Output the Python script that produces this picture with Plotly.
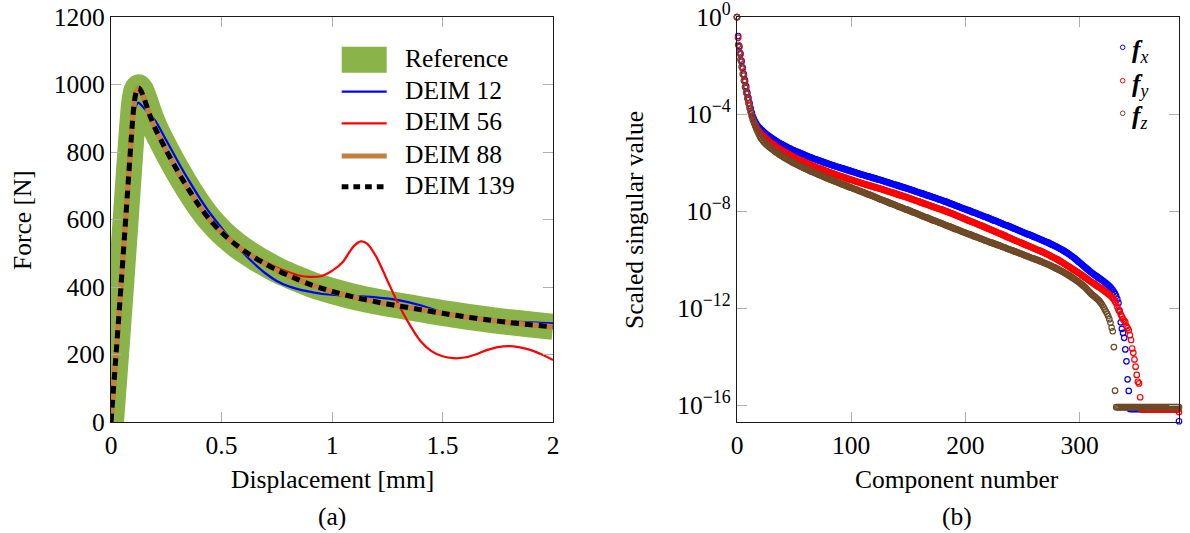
import plotly.graph_objects as go

# ---------------- (a) force-displacement data ----------------
disp_main = [0, 0.02, 0.04, 0.06, 0.08, 0.095, 0.105, 0.115, 0.125, 0.135,
             0.15, 0.175, 0.2, 0.25, 0.3, 0.35, 0.4, 0.45, 0.5, 0.55,
             0.6, 0.65, 0.7, 0.75, 0.8, 0.85, 0.9, 0.95, 1.0, 1.1,
             1.2, 1.3, 1.4, 1.5, 1.6, 1.7, 1.8, 1.9, 2.0]
force_ref = [0, 175, 355, 540, 730, 870, 945, 982, 992, 984,
             960, 912, 871, 806, 746, 691, 641, 598, 563, 534,
             509, 488, 469, 451, 436, 422, 409, 398, 388, 371,
             357, 345, 334, 323, 313, 304, 296, 289, 282]
force_88 = [0, 175, 355, 540, 730, 870, 945, 980, 990, 982,
            958, 910, 870, 805, 745, 690, 640, 597, 562, 533,
            508, 487, 468, 450, 435, 421, 408, 397, 387, 370,
            356, 344, 333, 322, 312, 303, 295, 288, 282]
force_139 = [0, 175, 355, 540, 730, 870, 945, 980, 990, 982,
             958, 910, 870, 805, 745, 690, 640, 597, 562, 533,
             508, 487, 468, 450, 435, 421, 408, 397, 387, 370,
             356, 344, 333, 322, 312, 303, 295, 288, 282]
force_12 = [0, 175, 355, 540, 730, 860, 915, 940, 946, 940,
            930, 912, 893, 835, 775, 718, 665, 617, 575, 535,
            500, 468, 440, 418, 403, 393, 386, 380, 377, 373,
            369, 361, 346, 325, 312, 305, 299, 295, 292]
disp_56 = [0, 0.02, 0.04, 0.06, 0.08, 0.095, 0.105, 0.115, 0.125, 0.135,
           0.15, 0.175, 0.2, 0.25, 0.3, 0.35, 0.4, 0.45, 0.5, 0.55,
           0.6, 0.65, 0.7, 0.75, 0.8, 0.85, 0.9, 0.95, 1.0, 1.05,
           1.08, 1.1, 1.13, 1.16, 1.2, 1.25, 1.3, 1.35, 1.4, 1.45,
           1.5, 1.55, 1.6, 1.65, 1.7, 1.75, 1.8, 1.85, 1.9, 1.95, 2.0]
force_56 = [0, 175, 355, 540, 730, 870, 945, 980, 990, 982,
            958, 910, 870, 805, 745, 690, 640, 597, 562, 533,
            508, 490, 473, 458, 445, 434, 430, 432, 448, 475,
            505, 522, 535, 528, 490, 420, 350, 290, 240, 210,
            195, 189, 191, 200, 213, 222, 225, 221, 213, 200, 184]

# ---------------- (b) scaled singular values (log10 exponents) ----------------
component = list(range(0, 388))
log_fx = [
    0, -0.78, -1.20, -1.50, -1.80, -2.08, -2.35, -2.60, -2.85, -3.10,
    -3.33, -3.55, -3.76, -3.95, -4.10, -4.22, -4.32, -4.40, -4.47, -4.53,
    -4.58, -4.63, -4.67, -4.72, -4.76, -4.80, -4.84, -4.88, -4.91, -4.95,
    -4.98, -5.01, -5.04, -5.07, -5.10, -5.13, -5.16, -5.19, -5.22, -5.24,
    -5.27, -5.29, -5.32, -5.34, -5.37, -5.39, -5.41, -5.43, -5.46, -5.48,
    -5.50, -5.52, -5.54, -5.56, -5.58, -5.60, -5.62, -5.64, -5.66, -5.68,
    -5.70, -5.72, -5.74, -5.76, -5.78, -5.79, -5.81, -5.83, -5.85, -5.86,
    -5.88, -5.90, -5.92, -5.93, -5.95, -5.97, -5.98, -6.00, -6.02, -6.03,
    -6.05, -6.07, -6.08, -6.10, -6.11, -6.13, -6.14, -6.16, -6.17, -6.19,
    -6.20, -6.22, -6.23, -6.25, -6.26, -6.28, -6.29, -6.31, -6.32, -6.34,
    -6.35, -6.37, -6.38, -6.40, -6.41, -6.43, -6.44, -6.46, -6.47, -6.49,
    -6.50, -6.51, -6.53, -6.54, -6.56, -6.57, -6.58, -6.60, -6.61, -6.63,
    -6.64, -6.65, -6.67, -6.68, -6.70, -6.71, -6.72, -6.74, -6.75, -6.77,
    -6.78, -6.80, -6.81, -6.83, -6.84, -6.86, -6.87, -6.89, -6.90, -6.92,
    -6.93, -6.95, -6.96, -6.98, -6.99, -7.01, -7.02, -7.04, -7.05, -7.07,
    -7.08, -7.10, -7.11, -7.13, -7.14, -7.16, -7.18, -7.19, -7.21, -7.22,
    -7.24, -7.26, -7.27, -7.29, -7.30, -7.32, -7.34, -7.35, -7.37, -7.38,
    -7.40, -7.42, -7.43, -7.45, -7.46, -7.48, -7.50, -7.51, -7.53, -7.54,
    -7.56, -7.58, -7.60, -7.61, -7.63, -7.65, -7.67, -7.69, -7.70, -7.72,
    -7.74, -7.76, -7.78, -7.79, -7.81, -7.83, -7.85, -7.87, -7.88, -7.90,
    -7.92, -7.94, -7.96, -7.97, -7.99, -8.01, -8.03, -8.05, -8.06, -8.08,
    -8.10, -8.12, -8.14, -8.15, -8.17, -8.19, -8.21, -8.23, -8.24, -8.26,
    -8.28, -8.30, -8.32, -8.34, -8.36, -8.38, -8.39, -8.41, -8.43, -8.45,
    -8.47, -8.49, -8.51, -8.53, -8.55, -8.57, -8.58, -8.60, -8.62, -8.64,
    -8.66, -8.68, -8.70, -8.72, -8.74, -8.76, -8.78, -8.80, -8.82, -8.84,
    -8.86, -8.88, -8.90, -8.92, -8.94, -8.96, -8.97, -8.99, -9.01, -9.03,
    -9.05, -9.07, -9.09, -9.11, -9.13, -9.15, -9.17, -9.19, -9.21, -9.23,
    -9.25, -9.27, -9.29, -9.31, -9.34, -9.36, -9.38, -9.40, -9.43, -9.45,
    -9.47, -9.50, -9.52, -9.55, -9.57, -9.60, -9.63, -9.66, -9.69, -9.72,
    -9.75, -9.78, -9.82, -9.85, -9.88, -9.92, -9.96, -10.00, -10.04, -10.08,
    -10.12, -10.16, -10.20, -10.24, -10.28, -10.32, -10.36, -10.40, -10.44, -10.48,
    -10.52, -10.55, -10.59, -10.62, -10.66, -10.69, -10.72, -10.76, -10.79, -10.82,
    -10.86, -10.89, -10.93, -10.97, -11.01, -11.05, -11.09, -11.14, -11.19, -11.25,
    -11.33, -11.40, -11.50, -11.62, -11.78, -12.10, -12.58, -12.85, -13.02, -13.22,
    -13.70, -14.19, -14.93, -15.41, -16.15, -16.15, -16.15, -16.15, -16.15, -16.15,
    -16.15, -16.15, -16.15, -16.15, -16.15, -16.15, -16.15, -16.15, -16.15, -16.15,
    -16.15, -16.15, -16.15, -16.15, -16.15, -16.15, -16.15, -16.15, -16.15, -16.15,
    -16.15, -16.15, -16.15, -16.15, -16.15, -16.15, -16.15, -16.15, -16.15, -16.15,
    -16.15, -16.15, -16.15, -16.15, -16.15, -16.15, -16.15, -16.66]
log_fy = [
    0, -0.85, -1.24, -1.54, -1.85, -2.13, -2.41, -2.67, -2.93, -3.18,
    -3.42, -3.65, -3.87, -4.06, -4.22, -4.35, -4.46, -4.55, -4.63, -4.70,
    -4.76, -4.81, -4.86, -4.91, -4.96, -5.00, -5.04, -5.08, -5.12, -5.16,
    -5.20, -5.23, -5.27, -5.30, -5.34, -5.37, -5.40, -5.43, -5.46, -5.49,
    -5.52, -5.55, -5.57, -5.60, -5.63, -5.65, -5.68, -5.70, -5.73, -5.75,
    -5.78, -5.80, -5.82, -5.85, -5.87, -5.89, -5.91, -5.93, -5.96, -5.98,
    -6.00, -6.02, -6.04, -6.06, -6.08, -6.10, -6.12, -6.14, -6.16, -6.18,
    -6.20, -6.22, -6.24, -6.25, -6.27, -6.29, -6.31, -6.33, -6.34, -6.36,
    -6.38, -6.40, -6.41, -6.43, -6.45, -6.46, -6.48, -6.50, -6.51, -6.53,
    -6.55, -6.56, -6.58, -6.60, -6.61, -6.63, -6.64, -6.66, -6.68, -6.69,
    -6.71, -6.72, -6.74, -6.75, -6.77, -6.78, -6.80, -6.81, -6.83, -6.84,
    -6.86, -6.87, -6.89, -6.90, -6.92, -6.93, -6.94, -6.96, -6.97, -6.99,
    -7.00, -7.01, -7.03, -7.04, -7.06, -7.07, -7.08, -7.10, -7.11, -7.13,
    -7.14, -7.16, -7.17, -7.19, -7.20, -7.22, -7.23, -7.25, -7.26, -7.28,
    -7.30, -7.31, -7.33, -7.34, -7.36, -7.37, -7.39, -7.40, -7.42, -7.43,
    -7.45, -7.47, -7.48, -7.50, -7.52, -7.53, -7.55, -7.57, -7.58, -7.60,
    -7.62, -7.64, -7.65, -7.67, -7.69, -7.70, -7.72, -7.74, -7.75, -7.77,
    -7.79, -7.80, -7.82, -7.84, -7.85, -7.87, -7.89, -7.90, -7.92, -7.93,
    -7.95, -7.97, -7.99, -8.00, -8.02, -8.04, -8.06, -8.08, -8.09, -8.11,
    -8.13, -8.15, -8.17, -8.19, -8.21, -8.23, -8.25, -8.27, -8.29, -8.31,
    -8.33, -8.35, -8.37, -8.39, -8.41, -8.43, -8.44, -8.46, -8.48, -8.50,
    -8.52, -8.54, -8.56, -8.58, -8.60, -8.62, -8.64, -8.66, -8.68, -8.70,
    -8.72, -8.74, -8.76, -8.78, -8.80, -8.82, -8.84, -8.86, -8.88, -8.90,
    -8.92, -8.94, -8.96, -8.98, -9.00, -9.02, -9.05, -9.07, -9.09, -9.11,
    -9.13, -9.15, -9.17, -9.19, -9.21, -9.23, -9.25, -9.27, -9.29, -9.31,
    -9.33, -9.35, -9.37, -9.39, -9.41, -9.43, -9.45, -9.47, -9.49, -9.51,
    -9.53, -9.55, -9.57, -9.59, -9.61, -9.63, -9.65, -9.67, -9.69, -9.72,
    -9.74, -9.76, -9.78, -9.81, -9.83, -9.86, -9.88, -9.90, -9.93, -9.95,
    -9.98, -10.00, -10.03, -10.06, -10.09, -10.12, -10.15, -10.18, -10.21, -10.24,
    -10.27, -10.30, -10.33, -10.36, -10.39, -10.42, -10.45, -10.48, -10.51, -10.54,
    -10.57, -10.61, -10.64, -10.67, -10.71, -10.74, -10.77, -10.81, -10.84, -10.88,
    -10.91, -10.94, -10.97, -11.00, -11.04, -11.07, -11.10, -11.13, -11.16, -11.19,
    -11.23, -11.26, -11.30, -11.33, -11.37, -11.40, -11.44, -11.48, -11.53, -11.58,
    -11.64, -11.72, -11.80, -11.95, -12.06, -12.14, -12.25, -12.35, -12.45, -12.51,
    -12.57, -12.74, -12.82, -12.90, -13.11, -13.31, -13.66, -13.84, -14.11, -14.41,
    -14.75, -15.03, -15.10, -15.67, -16.17, -16.17, -16.17, -16.17, -16.17, -16.17,
    -16.17, -16.17, -16.17, -16.17, -16.17, -16.17, -16.17, -16.17, -16.17, -16.17,
    -16.17, -16.17, -16.17, -16.17, -16.17, -16.17, -16.17, -16.17, -16.17, -16.17,
    -16.17, -16.17, -16.17, -16.17, -16.17, -16.17, -16.17, -16.28]
log_fz = [
    0, -1.14, -1.45, -1.75, -2.05, -2.35, -2.62, -2.88, -3.12, -3.35,
    -3.55, -3.75, -3.93, -4.10, -4.25, -4.38, -4.50, -4.61, -4.72, -4.82,
    -4.91, -4.99, -5.06, -5.12, -5.17, -5.22, -5.26, -5.30, -5.34, -5.38,
    -5.42, -5.45, -5.49, -5.52, -5.56, -5.59, -5.62, -5.66, -5.69, -5.72,
    -5.75, -5.78, -5.81, -5.83, -5.86, -5.89, -5.91, -5.94, -5.97, -5.99,
    -6.02, -6.04, -6.07, -6.09, -6.11, -6.14, -6.16, -6.18, -6.21, -6.23,
    -6.25, -6.27, -6.29, -6.31, -6.34, -6.36, -6.38, -6.40, -6.42, -6.44,
    -6.46, -6.48, -6.50, -6.52, -6.54, -6.56, -6.58, -6.60, -6.62, -6.64,
    -6.66, -6.68, -6.70, -6.72, -6.74, -6.76, -6.77, -6.79, -6.81, -6.83,
    -6.85, -6.87, -6.89, -6.91, -6.92, -6.94, -6.96, -6.98, -7.00, -7.01,
    -7.03, -7.05, -7.07, -7.09, -7.10, -7.12, -7.14, -7.16, -7.18, -7.19,
    -7.21, -7.23, -7.25, -7.27, -7.29, -7.31, -7.32, -7.34, -7.36, -7.38,
    -7.40, -7.42, -7.44, -7.46, -7.48, -7.50, -7.52, -7.53, -7.55, -7.57,
    -7.59, -7.61, -7.63, -7.65, -7.67, -7.69, -7.70, -7.72, -7.74, -7.76,
    -7.78, -7.80, -7.82, -7.83, -7.85, -7.87, -7.89, -7.91, -7.93, -7.94,
    -7.96, -7.98, -8.00, -8.02, -8.04, -8.06, -8.07, -8.09, -8.11, -8.13,
    -8.15, -8.17, -8.19, -8.21, -8.23, -8.25, -8.26, -8.28, -8.30, -8.32,
    -8.34, -8.36, -8.38, -8.39, -8.41, -8.43, -8.45, -8.47, -8.48, -8.50,
    -8.52, -8.54, -8.56, -8.58, -8.60, -8.62, -8.63, -8.65, -8.67, -8.69,
    -8.71, -8.73, -8.75, -8.76, -8.78, -8.80, -8.82, -8.84, -8.86, -8.87,
    -8.89, -8.91, -8.93, -8.95, -8.96, -8.98, -9.00, -9.02, -9.04, -9.05,
    -9.07, -9.09, -9.11, -9.13, -9.14, -9.16, -9.18, -9.20, -9.22, -9.23,
    -9.25, -9.27, -9.29, -9.30, -9.32, -9.34, -9.35, -9.37, -9.39, -9.40,
    -9.42, -9.44, -9.46, -9.48, -9.49, -9.51, -9.53, -9.55, -9.57, -9.58,
    -9.60, -9.62, -9.64, -9.66, -9.67, -9.69, -9.71, -9.73, -9.75, -9.76,
    -9.78, -9.80, -9.82, -9.84, -9.85, -9.87, -9.89, -9.91, -9.93, -9.94,
    -9.96, -9.98, -10.00, -10.01, -10.03, -10.05, -10.07, -10.09, -10.11, -10.13,
    -10.15, -10.17, -10.19, -10.21, -10.23, -10.25, -10.28, -10.30, -10.32, -10.35,
    -10.37, -10.39, -10.42, -10.44, -10.47, -10.49, -10.52, -10.55, -10.57, -10.60,
    -10.63, -10.66, -10.69, -10.72, -10.75, -10.78, -10.82, -10.85, -10.88, -10.91,
    -10.95, -10.99, -11.03, -11.07, -11.11, -11.15, -11.20, -11.25, -11.30, -11.35,
    -11.40, -11.44, -11.48, -11.52, -11.56, -11.60, -11.64, -11.69, -11.75, -11.81,
    -11.88, -11.96, -12.05, -12.14, -12.22, -12.32, -12.45, -12.60, -12.80, -12.95,
    -13.60, -15.40, -16.08, -16.08, -16.08, -16.08, -16.08, -16.08, -16.08, -16.08,
    -16.08, -16.08, -16.08, -16.08, -16.08, -16.08, -16.08, -16.08, -16.08, -16.08,
    -16.08, -16.08, -16.08, -16.08, -16.08, -16.08, -16.08, -16.08, -16.08, -16.08,
    -16.08, -16.08, -16.08, -16.08, -16.08, -16.08, -16.08, -16.08, -16.08, -16.08,
    -16.08, -16.08, -16.08, -16.08, -16.08, -16.08, -16.08, -16.08, -16.08, -16.08,
    -16.08, -16.08, -16.08, -16.08, -16.08, -16.08, -16.08, -16.08]

xticks_a = [0, 0.5, 1, 1.5, 2]
xticklabels_a = ["0", "0.5", "1", "1.5", "2"]
yticks_a = [0, 200, 400, 600, 800, 1000, 1200]
xticks_b = [0, 100, 200, 300]
yticks_b = [1, 1e-4, 1e-8, 1e-12, 1e-16]
yticklabels_b = ["10<sup>0</sup>", "10<sup>\u22124</sup>", "10<sup>\u22128</sup>",
                 "10<sup>\u221212</sup>", "10<sup>\u221216</sup>"]

legend_a = ["Reference", "DEIM 12", "DEIM 56", "DEIM 88", "DEIM 139"]
legend_b = ["<b><i>f</i></b><sub><i>x</i></sub>",
            "<b><i>f</i></b><sub><i>y</i></sub>",
            "<b><i>f</i></b><sub><i>z</i></sub>"]

GREEN = "#8AB34A"
ORANGE = "#BF8040"
BROWN = "#6E4A27"
BLUE = "#0000FF"
RED = "#FF0000"
FONT = "Liberation Serif"
FS = 25.5

W, H = 1190, 533


def px(v):
    return v / W


def py(v):
    return 1 - v / H


fig = go.Figure()

# (a) curves
fig.add_trace(go.Scatter(x=disp_main, y=force_ref, mode="lines", xaxis="x", yaxis="y",
                         line=dict(color=GREEN, width=26, shape="spline", smoothing=0.8)))
fig.add_trace(go.Scatter(x=disp_main, y=force_12, mode="lines", xaxis="x", yaxis="y",
                         line=dict(color=BLUE, width=2.2, shape="spline", smoothing=0.8)))
fig.add_trace(go.Scatter(x=disp_56, y=force_56, mode="lines", xaxis="x", yaxis="y",
                         line=dict(color=RED, width=2.2, shape="spline", smoothing=0.8)))
fig.add_trace(go.Scatter(x=disp_main, y=force_88, mode="lines", xaxis="x", yaxis="y",
                         line=dict(color=ORANGE, width=5.5, shape="spline", smoothing=0.8)))
fig.add_trace(go.Scatter(x=disp_main, y=force_139, mode="lines", xaxis="x", yaxis="y",
                         line=dict(color="black", width=5, dash="8px,6px",
                                   shape="spline", smoothing=0.8)))

# (b) scatter
for vals, col in ((log_fx, BLUE), (log_fy, RED), (log_fz, BROWN)):
    fig.add_trace(go.Scatter(x=component, y=[10 ** v for v in vals], mode="markers",
                             xaxis="x2", yaxis="y2", cliponaxis=False,
                             marker=dict(symbol="circle-open", size=5.5, color=col,
                                         line=dict(width=1.2, color=col))))

axis_common = dict(showgrid=False, zeroline=False, showline=True, linecolor="#1a1a1a",
                   linewidth=1.4, mirror="ticks", ticks="inside", ticklen=10,
                   tickwidth=1.2, tickcolor="#b0b0b0", automargin=False,
                   ticklabeloverflow="allow",
                   tickfont=dict(family=FONT, size=FS, color="black"))

fig.update_layout(
    template="none",
    width=W, height=H, margin=dict(l=0, r=0, t=0, b=0, pad=0), autosize=False,
    paper_bgcolor="white", plot_bgcolor="white", showlegend=False,
    xaxis=dict(domain=[px(111), px(553)], range=[0, 2], tickvals=xticks_a,
               ticktext=xticklabels_a, anchor="y", **axis_common),
    yaxis=dict(domain=[py(422), py(17)], range=[0, 1200], tickvals=yticks_a,
               anchor="x", **axis_common),
    xaxis2=dict(domain=[px(737), px(1179)], range=[0, 387], tickvals=xticks_b,
                anchor="y2", **axis_common),
    yaxis2=dict(domain=[py(422), py(17)], type="log", range=[-16.69, 0.003],
                tickvals=yticks_b, ticktext=yticklabels_b, anchor="x2", **axis_common),
)

annotations = []


def txt(t, x, y, xanchor="center", angle=0, size=FS):
    annotations.append(dict(text=t, x=px(x), y=py(y), xref="paper", yref="paper",
                            xanchor=xanchor, yanchor="middle", showarrow=False,
                            textangle=angle, font=dict(family=FONT, size=size, color="black")))


txt("Displacement [mm]", 332, 479)
txt("Component number", 957, 479)
txt("(a)", 332, 516)
txt("(b)", 957, 516)
txt("Force [N]", 22, 220, angle=-90)
txt("Scaled singular value", 634, 220, angle=-90)

# legend (a)
shapes = []
rows_a = [59.7, 91.7, 123.3, 156.0, 186.7]
styles_a = [dict(color=GREEN, width=26), dict(color=BLUE, width=2.2),
            dict(color=RED, width=2.2), dict(color=ORANGE, width=5),
            dict(color="black", width=5, dash="6.7px,5px")]
for label, yy, st in zip(legend_a, rows_a, styles_a):
    x1 = 384 if "dash" in st else 386.7
    shapes.append(dict(type="line", xref="paper", yref="paper", x0=px(341.7), x1=px(x1),
                       y0=py(yy), y1=py(yy), line=st))
    txt(label, 403, yy - 1.5, xanchor="left")

# legend (b)
rows_b = [47.3, 80.7, 113.3]
for label, yy, col in zip(legend_b, rows_b, (BLUE, RED, BROWN)):
    shapes.append(dict(type="circle", xref="paper", yref="paper",
                       xsizemode="pixel", ysizemode="pixel",
                       xanchor=px(1122.7), yanchor=py(yy),
                       x0=-2.3, x1=2.3, y0=-2.3, y1=2.3,
                       line=dict(color=col, width=1)))
    txt(label, 1130, yy + 4, xanchor="left")

fig.update_layout(annotations=annotations, shapes=shapes)

fig.write_html("out.html", config={"displayModeBar": False},
               post_script="document.body.style.margin='0px';document.body.style.overflow='hidden';")
